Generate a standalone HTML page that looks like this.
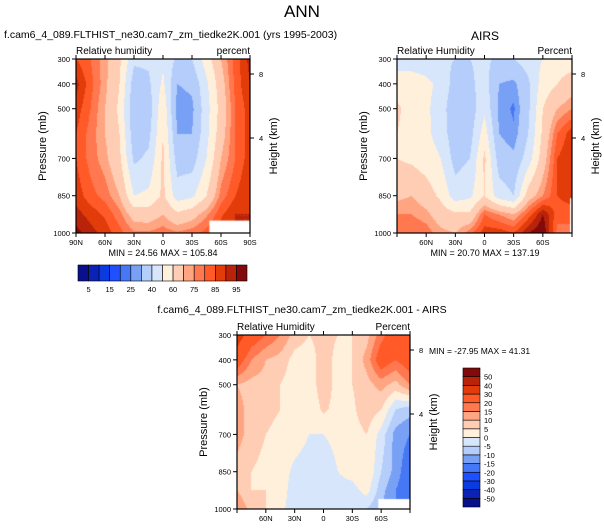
<!DOCTYPE html>
<html><head><meta charset="utf-8">
<style>
body{margin:0;background:#fff;font-family:"Liberation Sans",sans-serif;}
#wrap{position:relative;width:604px;height:529px;overflow:hidden;background:#fff}
.t{position:absolute;white-space:nowrap;color:#000}
canvas{position:absolute}
</style></head><body>
<div id="wrap">
<div class="t" style="left:0;width:604px;text-align:center;top:2px;font-size:17px">ANN</div>
<div class="t" style="left:4px;top:29px;font-size:10.5px">f.cam6_4_089.FLTHIST_ne30.cam7_zm_tiedke2K.001 (yrs 1995-2003)</div>
<div class="t" style="top:29px;font-size:12px;left:0;width:604px;padding-left:366px;box-sizing:border-box;text-align:center">AIRS</div>
<div class="t" style="left:0;width:604px;text-align:center;top:304px;font-size:10.5px">f.cam6_4_089.FLTHIST_ne30.cam7_zm_tiedke2K.001 - AIRS</div>
<svg id="svg" width="604" height="529" style="position:absolute;left:0;top:0"></svg>
</div>
<script>
const pressures=[300,400,500,600,700,850,925,1000];
const lats=[90,75,60,45,30,15,0,-15,-30,-45,-60,-75,-90];
const modelRH=[
[85,92,88,85,85,88,92,97],[80,82,80,78,78,82,88,92],[72,72,70,70,72,78,84,88],[62,60,58,60,62,70,77,82],
[42,35,32,34,38,50,66,76],[42,38,34,37,42,52,65,76],[48,52,58,60,62,62,70,78],[38,30,26,30,35,45,62,76],
[40,32,28,30,35,48,66,78],[55,48,46,47,50,60,74,82],[70,66,64,66,70,77,84,88],[82,82,80,80,80,85,90,90],[92,90,88,88,88,90,90,90]];
const airsRH=[
[45,55,62,60,60,68,75,80],[45,55,55,55,58,70,75,80],[45,52,52,52,55,65,72,78],[42,48,45,46,50,58,65,72],
[40,35,32,33,36,45,62,70],[40,38,34,36,40,48,62,78],[42,44,48,55,62,60,80,88],[38,30,28,30,35,45,75,88],
[40,28,24,26,32,40,70,85],[45,38,38,40,45,65,82,95],[50,55,60,62,65,75,95,100],[55,60,70,80,85,85,82,78],[55,65,75,88,90,88,82,78]];
const diffRH=[
[35,25,10,12,12,8,10,15],[25,15,8,8,8,5,5,8],[20,10,8,7,5,3,5,5],[15,8,5,5,3,2,2,1],
[8,3,2,3,2,-1,-2,-2],[5,2,2,1,0,-2,-5,-3],[7,8,8,6,0,-2,-3,-3],[5,3,3,3,1,0,-2,-3],
[5,5,5,4,3,2,-2,-3],[8,12,8,8,5,5,2,-5],[18,25,12,5,-2,-5,-8,-10],[25,20,8,-5,-12,-12,-15,-15],[30,25,15,-8,-15,-20,-20,-20]];
const rhLevels=[5,10,15,20,25,30,40,50,60,70,75,80,85,90,95];
const rhLabels=["5","15","25","40","60","75","85","95"];
const diffLevels=[-50,-40,-30,-20,-15,-10,-5,0,5,10,15,20,30,40,50];
const colors=["#0a0f8c","#0a23b4","#0a3be0","#1e50ff","#4678f5","#78a0f5","#b4cdfa","#d7e6fa","#fff0dc","#ffcdb4","#ffa582","#ff7850","#ff5a28","#e13c0a","#b9230a","#820a0a"];
const latTicks=[90,60,30,0,-30,-60,-90];
const presTicks=[300,400,500,700,850,1000];
const NS="http://www.w3.org/2000/svg";
const svg=document.getElementById('svg');
function mk(tag,attrs){const e=document.createElementNS(NS,tag);for(const k in attrs)e.setAttribute(k,attrs[k]);svg.appendChild(e);return e;}
function txt(x,y,s,size,anchor,name,rot){const e=mk('text',{x:x,y:y,'font-size':size,'text-anchor':anchor||'start','font-family':'Liberation Sans, sans-serif'});if(rot)e.setAttribute('transform','rotate(-90 '+x+' '+y+')');e.textContent=s;

return e;}
function colorFor(v,levels){let i=0;while(i<levels.length&&v>=levels[i])i++;return colors[i];}
function interp(grid,lat,p){
 let li=0;while(li<lats.length-2&&lat<lats[li+1])li++;
 let fx=(lats[li]-lat)/(lats[li]-lats[li+1]);fx=Math.max(0,Math.min(1,fx));
 let pi=0;while(pi<pressures.length-2&&p>pressures[pi+1])pi++;
 let fy=(p-pressures[pi])/(pressures[pi+1]-pressures[pi]);fy=Math.max(0,Math.min(1,fy));
 const a=grid[li][pi],b=grid[li+1][pi],c=grid[li][pi+1],d=grid[li+1][pi+1];
 return a*(1-fx)*(1-fy)+b*fx*(1-fy)+c*(1-fx)*fy+d*fx*fy;}
function panel(id,x0,y0,w,h,grid,levels,showEnds,missing,labels){
 const xs=lat=>x0+(90-lat)/180*w, ys=p=>y0+(p-300)/700*h;
 const cv=document.createElement('canvas');cv.width=w;cv.height=h;cv.style.left=x0+'px';cv.style.top=y0+'px';
 
 
 document.getElementById('wrap').insertBefore(cv,svg);
 const ctx=cv.getContext('2d');
 for(let px=0;px<w;px++)for(let py=0;py<h;py++){
  const lat=90-(px+0.5)/w*180,p=300+(py+0.5)/h*700;
  ctx.fillStyle=colorFor(interp(grid,lat,p),levels);ctx.fillRect(px,py,1,1);}
 if(missing){ctx.fillStyle='#fff';ctx.fillRect(xs(missing[0])-x0,ys(missing[1])-y0,w,h);}
 mk('rect',{x:x0,y:y0,width:w,height:h,fill:'none',stroke:'#000','stroke-width':1.2});
 latTicks.forEach(l=>{const x=xs(l);mk('line',{x1:x,x2:x,y1:y0+h,y2:y0+h+4,stroke:'#000'});mk('line',{x1:x,x2:x,y1:y0,y2:y0-4,stroke:'#000'});
  if(!showEnds&&Math.abs(l)==90)return;
  const s=l==0?'0':Math.abs(l)+(l>0?'N':'S');txt(x,y0+h+12,s,7.5,'middle',id+'-lat-label');});
 presTicks.forEach(p=>{const y=ys(p);mk('line',{x1:x0-4,x2:x0,y1:y,y2:y,stroke:'#000'});txt(x0-6,y+3,String(p),7.5,'end',id+'-pressure-label');});
 [[8,y0+15],[4,y0+79]].forEach(k=>{mk('line',{x1:x0+w,x2:x0+w+4,y1:k[1],y2:k[1],stroke:'#000'});txt(x0+w+9,k[1]+3,String(k[0]),7.5,'start',id+'-height-label');});
 txt(x0,y0-5,labels[0],10,'start',id+'-variable-label');
 txt(x0+w,y0-5,labels[1],10,'end',id+'-units-label');
 txt(x0-30,y0+h/2,'Pressure (mb)',11,'middle',id+'-y-axis-title',true);
 txt(x0+w+27,y0+h/2,'Height (km)',11,'middle',id+'-right-axis-title',true);
}
panel('panel1',76,59,174,174,modelRH,rhLevels,true,[-48,950],['Relative humidity','percent']);
panel('panel2',397,59,175,174,airsRH,rhLevels,false,[-88,860],['Relative Humidity','Percent']);
panel('panel3',237,335,173,174,diffRH,diffLevels,false,[-57,960],['Relative Humidity','Percent']);
txt(163,256,'MIN =  24.56  MAX = 105.84',9,'middle','panel1-min-max');
txt(485,256,'MIN =  20.70  MAX = 137.19',9,'middle','panel2-min-max');
txt(429,354,'MIN = -27.95  MAX = 41.31',8.5,'start','panel3-min-max');
const cbx=78,cby=265,cbw=169,cbh=16,bw=cbw/colors.length;
colors.forEach((c,i)=>{const r=mk('rect',{x:cbx+i*bw,y:cby,width:bw,height:cbh,fill:c,stroke:'#000','stroke-width':0.6});

});
rhLabels.forEach((s,i)=>txt(cbx+(2*i+1)*bw,cby+cbh+11,s,7.5,'middle','colorbar-label'));
const vx=463,vy=368,vw=17,vh=139,bh=vh/colors.length;
colors.forEach((c,i)=>{const r=mk('rect',{x:vx,y:vy+vh-(i+1)*bh,width:vw,height:bh,fill:c,stroke:'#000','stroke-width':0.6});

});
diffLevels.forEach((v,i)=>txt(vx+vw+4,vy+vh-(i+1)*bh+3,String(v),7.5,'start','diff-colorbar-label'));
</script>
</body></html>
